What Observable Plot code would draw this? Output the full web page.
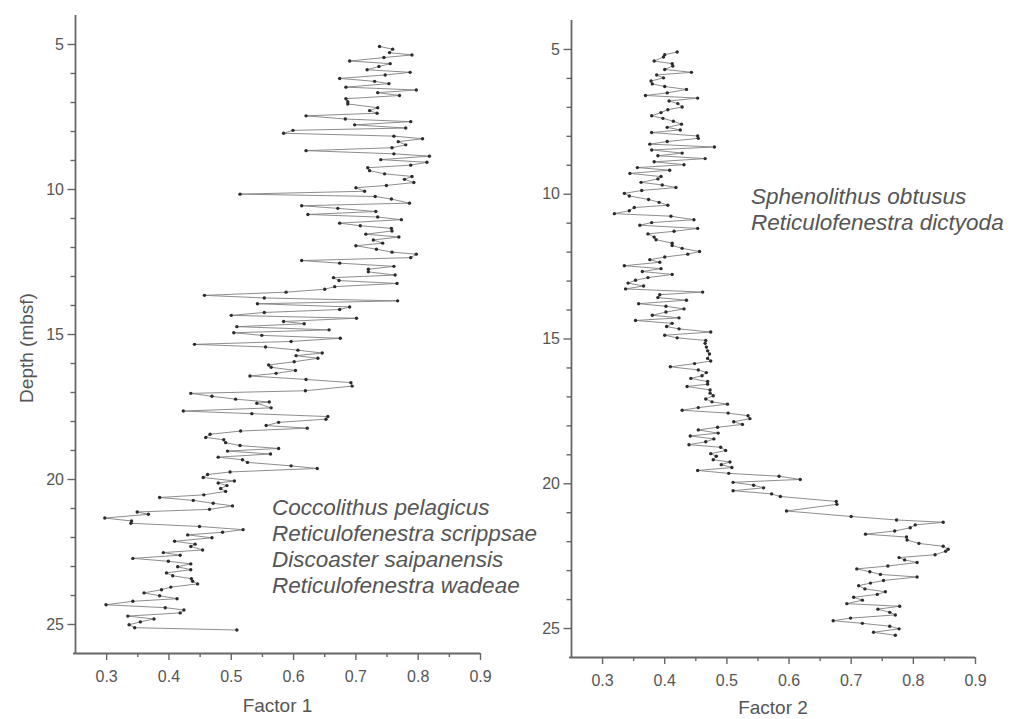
<!DOCTYPE html>
<html>
<head>
<meta charset="utf-8">
<script src="https://cdn.jsdelivr.net/npm/d3@7"></script>
<script src="https://cdn.jsdelivr.net/npm/@observablehq/plot@0.6"></script>
<style>
  html, body { margin: 0; padding: 0; background: #fff; }
  #wrap { position: relative; width: 1011px; height: 719px; overflow: hidden; font-family: "Liberation Sans", Arial, sans-serif; }
  .pane { position: absolute; top: 0; }
  #overlay { position: absolute; left: 0; top: 0; pointer-events: none; }
</style>
</head>
<body>
<div id="wrap">
  <div id="p1" class="pane" style="left:0px"></div>
  <div id="p2" class="pane" style="left:490px"></div>
</div>
<script>
// ---- Data ----
const depth1 = [5.07,5.16,5.28,5.36,5.45,5.57,5.66,5.76,5.87,5.96,6.05,6.17,6.27,6.35,6.47,6.57,6.66,6.76,6.87,6.97,7.05,7.18,7.28,7.37,7.46,7.57,7.66,7.77,7.88,7.96,8.06,8.16,8.25,8.35,8.46,8.56,8.66,8.77,8.85,8.97,9.06,9.16,9.25,9.35,9.46,9.55,9.65,9.76,9.86,9.94,10.06,10.16,10.24,10.33,10.47,10.56,10.65,10.76,10.86,10.95,11.04,11.16,11.25,11.34,11.43,11.54,11.64,11.74,11.85,11.94,12.06,12.16,12.23,12.35,12.45,12.54,12.65,12.75,12.84,12.95,13.04,13.14,13.24,13.35,13.44,13.54,13.65,13.74,13.84,13.94,14.05,14.14,14.24,14.34,14.44,14.55,14.63,14.73,14.84,14.94,15.03,15.13,15.24,15.34,15.43,15.54,15.64,15.73,15.82,15.94,16.05,16.13,16.24,16.34,16.43,16.55,16.66,16.78,16.94,17.03,17.13,17.23,17.33,17.37,17.53,17.64,17.73,17.83,17.92,18.03,18.14,18.23,18.33,18.44,18.55,18.63,18.73,18.83,18.93,19.02,19.12,19.23,19.32,19.41,19.53,19.62,19.74,19.83,19.93,20.05,20.12,20.21,20.31,20.41,20.53,20.62,20.72,20.82,20.91,21.03,21.12,21.20,21.33,21.43,21.51,21.62,21.73,21.82,21.91,22.01,22.13,22.23,22.31,22.43,22.52,22.61,22.72,22.82,22.91,23.01,23.11,23.22,23.32,23.42,23.51,23.60,23.71,23.80,23.91,24.01,24.11,24.20,24.32,24.42,24.50,24.60,24.71,24.81,24.91,25.01,25.11,25.19];
const factor1 = [0.738,0.759,0.754,0.790,0.745,0.690,0.755,0.737,0.718,0.787,0.747,0.674,0.730,0.753,0.684,0.797,0.735,0.770,0.684,0.687,0.687,0.735,0.722,0.734,0.620,0.683,0.788,0.698,0.780,0.599,0.584,0.761,0.807,0.768,0.780,0.758,0.620,0.761,0.818,0.740,0.814,0.788,0.719,0.722,0.746,0.790,0.778,0.793,0.749,0.700,0.714,0.514,0.731,0.757,0.786,0.613,0.671,0.732,0.623,0.735,0.773,0.674,0.707,0.757,0.758,0.716,0.769,0.728,0.743,0.700,0.733,0.758,0.797,0.788,0.613,0.674,0.761,0.720,0.720,0.763,0.664,0.673,0.766,0.666,0.650,0.588,0.457,0.553,0.767,0.542,0.690,0.674,0.553,0.500,0.701,0.584,0.617,0.509,0.657,0.504,0.549,0.675,0.596,0.441,0.555,0.607,0.646,0.604,0.639,0.601,0.560,0.564,0.603,0.572,0.530,0.620,0.692,0.694,0.619,0.435,0.469,0.507,0.561,0.541,0.564,0.423,0.533,0.655,0.652,0.576,0.556,0.622,0.515,0.466,0.459,0.488,0.491,0.514,0.576,0.494,0.563,0.479,0.518,0.526,0.596,0.638,0.498,0.462,0.455,0.505,0.479,0.493,0.483,0.491,0.456,0.385,0.439,0.471,0.502,0.465,0.349,0.367,0.297,0.340,0.339,0.449,0.519,0.486,0.430,0.469,0.409,0.442,0.435,0.454,0.391,0.418,0.342,0.399,0.435,0.414,0.435,0.396,0.406,0.436,0.438,0.446,0.403,0.388,0.360,0.385,0.413,0.342,0.299,0.394,0.424,0.418,0.334,0.376,0.354,0.336,0.345,0.509];

const depth2 = [5.09,5.18,5.26,5.40,5.49,5.57,5.69,5.79,5.88,5.98,6.09,6.19,6.28,6.38,6.50,6.59,6.68,6.78,6.87,6.99,7.08,7.18,7.29,7.38,7.48,7.58,7.69,7.78,7.87,7.99,8.07,8.18,8.27,8.37,8.47,8.58,8.67,8.77,8.88,8.98,9.08,9.17,9.28,9.39,9.47,9.59,9.68,9.77,9.87,9.97,10.06,10.18,10.28,10.38,10.46,10.57,10.67,10.76,10.88,10.98,11.07,11.18,11.28,11.37,11.48,11.57,11.69,11.77,11.87,11.98,12.07,12.17,12.26,12.35,12.47,12.57,12.67,12.77,12.88,12.97,13.07,13.17,13.27,13.38,13.47,13.57,13.66,13.78,13.87,13.96,14.07,14.18,14.27,14.36,14.46,14.57,14.65,14.76,14.87,14.96,15.05,15.15,15.28,15.41,15.52,15.67,15.76,15.85,15.96,16.07,16.16,16.27,16.36,16.47,16.56,16.64,16.76,16.87,16.96,17.07,17.17,17.25,17.37,17.46,17.56,17.65,17.75,17.86,17.95,18.05,18.14,18.25,18.35,18.45,18.55,18.65,18.74,18.85,18.96,19.05,19.17,19.25,19.34,19.44,19.54,19.64,19.74,19.85,19.95,20.05,20.14,20.24,20.35,20.44,20.61,20.71,20.94,21.13,21.25,21.33,21.42,21.52,21.63,21.74,21.84,21.94,22.06,22.16,22.26,22.33,22.45,22.55,22.63,22.72,22.84,22.94,23.04,23.13,23.22,23.34,23.43,23.52,23.63,23.73,23.82,23.92,24.02,24.14,24.23,24.33,24.44,24.53,24.64,24.73,24.82,24.92,25.01,25.13,25.23];
const factor2 = [0.420,0.400,0.398,0.383,0.412,0.413,0.400,0.443,0.387,0.398,0.378,0.380,0.400,0.435,0.404,0.369,0.453,0.407,0.421,0.428,0.405,0.394,0.379,0.397,0.414,0.427,0.404,0.425,0.379,0.453,0.454,0.404,0.376,0.480,0.379,0.428,0.389,0.465,0.383,0.431,0.356,0.408,0.344,0.394,0.389,0.362,0.396,0.418,0.363,0.335,0.343,0.374,0.391,0.405,0.351,0.343,0.319,0.410,0.447,0.379,0.360,0.453,0.415,0.373,0.383,0.386,0.412,0.412,0.428,0.456,0.437,0.400,0.376,0.392,0.335,0.394,0.364,0.412,0.373,0.353,0.341,0.366,0.337,0.461,0.392,0.389,0.435,0.358,0.402,0.431,0.402,0.380,0.423,0.353,0.412,0.403,0.423,0.474,0.400,0.420,0.466,0.465,0.467,0.469,0.472,0.469,0.474,0.448,0.409,0.454,0.467,0.460,0.442,0.469,0.469,0.436,0.473,0.473,0.478,0.466,0.476,0.501,0.454,0.428,0.502,0.534,0.537,0.511,0.525,0.485,0.454,0.486,0.441,0.479,0.466,0.439,0.490,0.498,0.474,0.483,0.478,0.505,0.491,0.508,0.453,0.503,0.584,0.618,0.510,0.543,0.559,0.510,0.572,0.586,0.676,0.677,0.596,0.700,0.773,0.848,0.803,0.795,0.770,0.723,0.789,0.790,0.809,0.848,0.856,0.852,0.835,0.777,0.786,0.806,0.759,0.709,0.730,0.747,0.806,0.752,0.731,0.712,0.722,0.755,0.742,0.704,0.718,0.693,0.778,0.743,0.762,0.771,0.699,0.671,0.718,0.762,0.777,0.736,0.771];

const depthTicks = [5, 10, 15, 20, 25];
const depthMinor = [6,7,8,9,11,12,13,14,16,17,18,19,21,22,23,24];
const factorTicks = [0.3, 0.4, 0.5, 0.6, 0.7, 0.8, 0.9];
const factorMinor = [0.35, 0.45, 0.55, 0.65, 0.75, 0.85];
const depthTitle = "Depth (mbsf)";
const xTitles = ["Factor 1", "Factor 2"];
const legend1 = ["Coccolithus pelagicus", "Reticulofenestra scrippsae", "Discoaster saipanensis", "Reticulofenestra wadeae"];
const legend2 = ["Sphenolithus obtusus", "Reticulofenestra dictyoda"];

const FONT = '"Liberation Sans", Arial, Helvetica, sans-serif';
const AXIS = "#666";

function panel(dep, fac, m) {
  const rows = dep.map((d, i) => ({d, f: fac[i]}));
  return Plot.plot({
    width: m.width, height: 719,
    marginLeft: m.left, marginRight: m.right, marginTop: m.top, marginBottom: m.bottom,
    style: {fontFamily: FONT, fontSize: "16px", color: "#555", background: "transparent", overflow: "visible"},
    x: {domain: [0.25, 0.9]},
    y: {domain: [4, 26], reverse: true},
    marks: [
      Plot.axisY({ticks: depthMinor, tickSize: 4.5, tickFormat: () => "", label: null, stroke: AXIS, strokeWidth: 1.4}),
      Plot.axisY({ticks: depthTicks, tickSize: 7.5, tickPadding: 4, label: null, stroke: AXIS, strokeWidth: 1.4, fill: "#555"}),
      Plot.axisX({ticks: factorMinor, tickSize: 4, tickFormat: () => "", label: null, stroke: AXIS, strokeWidth: 1.4}),
      Plot.axisX({ticks: factorTicks, tickSize: 7, tickPadding: 10, tickFormat: d3.format(".1f"), label: null, stroke: AXIS, strokeWidth: 1.4, fill: "#555"}),
      Plot.ruleX([0.25], {stroke: AXIS, strokeWidth: 1.8}),
      Plot.ruleY([26], {stroke: AXIS, strokeWidth: 1.8, x1: 0.247, x2: 0.9}),
      Plot.line(rows, {x: "f", y: "d", stroke: "#808080", strokeWidth: 0.9}),
      Plot.dot(rows, {x: "f", y: "d", r: 1.7, fill: "#2b2b2b", stroke: "none"})
    ]
  });
}

document.getElementById("p1").append(panel(depth1, factor1, {width: 490, left: 75, right: 10, top: 15, bottom: 66}));
document.getElementById("p2").append(panel(depth2, factor2, {width: 521, left: 81, right: 36, top: 20, bottom: 62}));

// Overlay text (titles and species labels)
const svg = d3.select("#wrap").append("svg")
  .attr("id", "overlay").attr("width", 1011).attr("height", 719)
  .style("font-family", FONT);

svg.append("text").text(depthTitle)
  .attr("transform", "translate(26,348) rotate(-90)")
  .attr("text-anchor", "middle").attr("dominant-baseline", "central")
  .attr("font-size", 19).attr("fill", "#555");

svg.append("text").text(xTitles[0]).attr("x", 277.5).attr("y", 712)
  .attr("text-anchor", "middle").attr("font-size", 19).attr("fill", "#555");
svg.append("text").text(xTitles[1]).attr("x", 773).attr("y", 714)
  .attr("text-anchor", "middle").attr("font-size", 19).attr("fill", "#555");

svg.selectAll("text.l1").data(legend1).join("text").attr("class", "l1")
  .text(d => d).attr("x", 272).attr("y", (d, i) => 515 + i * 26)
  .attr("font-size", 22.5).attr("font-style", "italic").attr("fill", "#555");

svg.selectAll("text.l2").data(legend2).join("text").attr("class", "l2")
  .text(d => d).attr("x", 751).attr("y", (d, i) => 204 + i * 26)
  .attr("font-size", 22.5).attr("font-style", "italic").attr("fill", "#555");
</script>
</body>
</html>
